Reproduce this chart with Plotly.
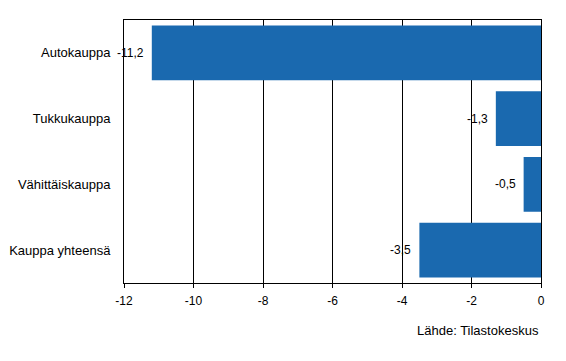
import plotly.graph_objects as go

categories = ["Autokauppa", "Tukkukauppa", "Vähittäiskauppa", "Kauppa yhteensä"]
values = [-11.2, -1.3, -0.5, -3.5]
tick_vals = [-12, -10, -8, -6, -4, -2, 0]
tick_text = ["-12", "-10", "-8", "-6", "-4", "-2", "0"]
labels = [f"{v:.1f}".replace(".", ",") for v in values]
source = "Lähde: Tilastokeskus"

FONT = "Liberation Sans, Arial, sans-serif"

fig = go.Figure()
fig.add_trace(go.Bar(
    x=values, y=categories, orientation="h",
    marker=dict(color="#1A69AF", line=dict(width=0)),
    width=0.83,
    hoverinfo="skip",
))

for v, c, t in zip(values, categories, labels):
    fig.add_annotation(x=v, y=c, text=t, showarrow=False, xanchor="right",
                       xshift=-6, font=dict(family=FONT, size=12, color="black"))

fig.add_annotation(xref="paper", yref="paper", x=1.0, y=-0.18, text=source,
                   showarrow=False, xanchor="right", yanchor="middle",
                   font=dict(family=FONT, size=13, color="black"))

fig.update_layout(
    width=566, height=361,
    margin=dict(l=124, r=25, t=20, b=78, autoexpand=False),
    paper_bgcolor="white", plot_bgcolor="white",
    showlegend=False,
    font=dict(family=FONT, size=12, color="black"),
    xaxis=dict(range=[-12, 0], tickvals=tick_vals, ticktext=tick_text,
               showgrid=True, gridcolor="black", gridwidth=1,
               showline=True, linecolor="black", linewidth=1, mirror=True,
               ticks="outside", ticklen=4, tickcolor="black",
               zeroline=False, layer="below traces", automargin=False,
               ticklabelstandoff=3,
               tickfont=dict(size=12)),
    yaxis=dict(categoryorder="array", categoryarray=categories, autorange="reversed",
               showgrid=False, showline=True, linecolor="black", linewidth=1, mirror=True,
               ticks="", ticklabelstandoff=10, automargin=False,
               tickfont=dict(size=13)),
)

fig.write_html("out.html")
